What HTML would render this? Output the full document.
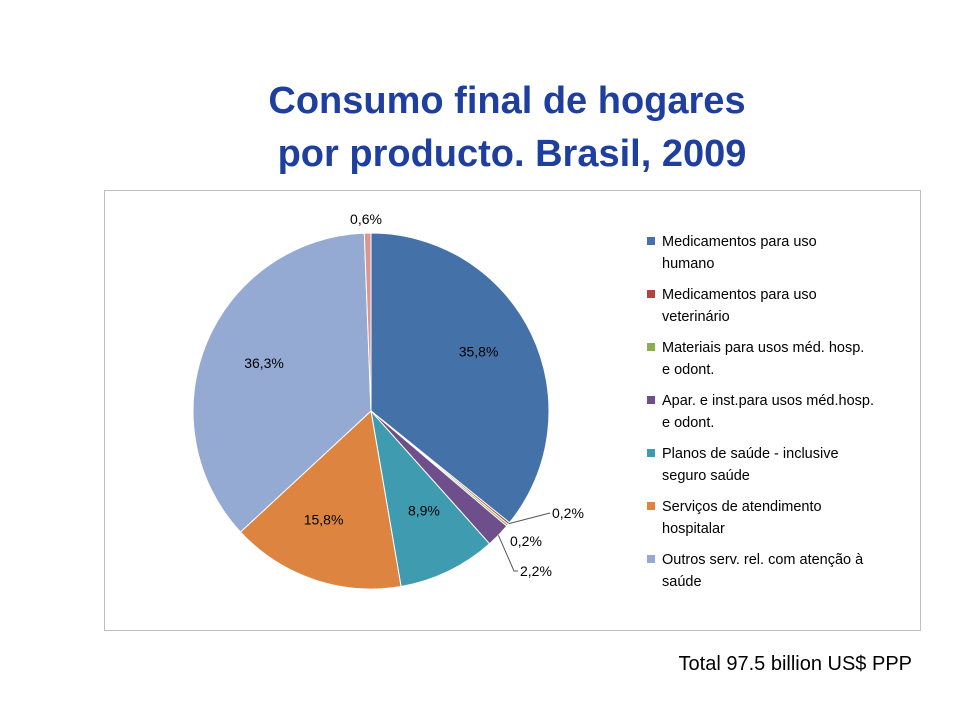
<!DOCTYPE html>
<html><head><meta charset="utf-8"><style>
body{margin:0;width:960px;height:720px;background:#fff;font-family:"Liberation Sans",sans-serif;overflow:hidden}
</style></head><body>
<svg width="960" height="720">
<text x="507" y="113" text-anchor="middle" font-size="38" font-weight="bold" fill="#1f3f9f">Consumo final de hogares</text>
<text x="512" y="166" text-anchor="middle" font-size="38" font-weight="bold" fill="#1f3f9f">por producto. Brasil, 2009</text>
<rect x="104.5" y="190.5" width="816" height="440" fill="#fff" stroke="#bfbfbf"/>
<g id="pie"></g>
<g id="legend"></g>
<text x="912" y="670" text-anchor="end" font-size="20" fill="#000">Total  97.5 billion US$ PPP</text>
</svg>
<script>
const categories=["Medicamentos para uso|humano","Medicamentos para uso|veterinário","Materiais para usos méd. hosp.|e odont.","Apar. e inst.para usos méd.hosp.|e odont.","Planos de saúde - inclusive|seguro saúde","Serviços de atendimento|hospitalar","Outros serv. rel. com atenção à|saúde","Outros"];
const values=[35.8,0.2,0.2,2.2,8.9,15.8,36.3,0.6];
const labels=["35,8%","0,2%","0,2%","2,2%","8,9%","15,8%","36,3%","0,6%"];
const colors=["#4472a8","#b34240","#8dae4e","#6e4f8c","#3f9bb0","#dd8540","#94aad3","#d99694"];
const NS="http://www.w3.org/2000/svg";
const cx=371,cy=411,r=178;
const pie=document.getElementById('pie');
const total=values.reduce((a,b)=>a+b,0);
function pt(a,rr){return [cx+rr*Math.sin(a),cy-rr*Math.cos(a)];}
let acc=0;
const mids=[];
values.forEach((v,i)=>{
  const a0=acc/total*2*Math.PI;acc+=v;const a1=acc/total*2*Math.PI;
  const p0=pt(a0,r),p1=pt(a1,r);
  const p=document.createElementNS(NS,'path');
  p.setAttribute('d',`M${cx},${cy}L${p0[0]},${p0[1]}A${r},${r} 0 ${a1-a0>Math.PI?1:0} 1 ${p1[0]},${p1[1]}Z`);
  p.setAttribute('fill',colors[i]);p.setAttribute('stroke','#fff');p.setAttribute('stroke-width','1');
  
  
  pie.appendChild(p);
  mids.push((a0+a1)/2);
});
// label placement
const lp=[[0.62,null],[null,[552,518]],[null,[510,546]],[null,[520,576]],[0.62,null],[0.62,null],[0.62,null],[null,[366,224]]];
labels.forEach((t,i)=>{
  const tx=document.createElementNS(NS,'text');
  let x,y,anchor='middle';
  if(lp[i][0]){const q=pt(mids[i],r*lp[i][0]);x=q[0];y=q[1]+5;}
  else{x=lp[i][1][0];y=lp[i][1][1];anchor=(i==7)?'middle':'start';}
  if(i==0){x+=8;y-=12;} if(i==6){x-=5;y-=6;} if(i==5){x-=12;y+=4;} if(i==4){x+=5;}
  tx.setAttribute('x',x);tx.setAttribute('y',y);tx.setAttribute('text-anchor',anchor);
  tx.setAttribute('font-size','14');tx.textContent=t;
  
  
  pie.appendChild(tx);
});
// leader lines
[[mids[1],[550,513]],[mids[3],null]].forEach(([a,e],k)=>{
  const s=pt(a,r);const l=document.createElementNS(NS,'polyline');
  l.setAttribute('points',k==0?`${s[0]},${s[1]} ${e[0]},${e[1]}`:`${s[0]},${s[1]} ${514},${571} ${518},${571}`);
  l.setAttribute('fill','none');l.setAttribute('stroke','#555');l.setAttribute('stroke-width','1');
  
  
  pie.appendChild(l);
});
const lg=document.getElementById('legend');
categories.slice(0,7).forEach((c,i)=>{
  const y=240+i*53;
  const sq=document.createElementNS(NS,'rect');
  sq.setAttribute('x',647);sq.setAttribute('y',y-3);sq.setAttribute('width',8);sq.setAttribute('height',8);sq.setAttribute('fill',colors[i]);
  
  
  lg.appendChild(sq);
  c.split('|').forEach((ln,j)=>{
    const t=document.createElementNS(NS,'text');
    t.setAttribute('x',662);t.setAttribute('y',y+6+j*22);t.setAttribute('font-size','14.5');t.textContent=ln;
    
    
    lg.appendChild(t);
  });
});
</script>
</body></html>
